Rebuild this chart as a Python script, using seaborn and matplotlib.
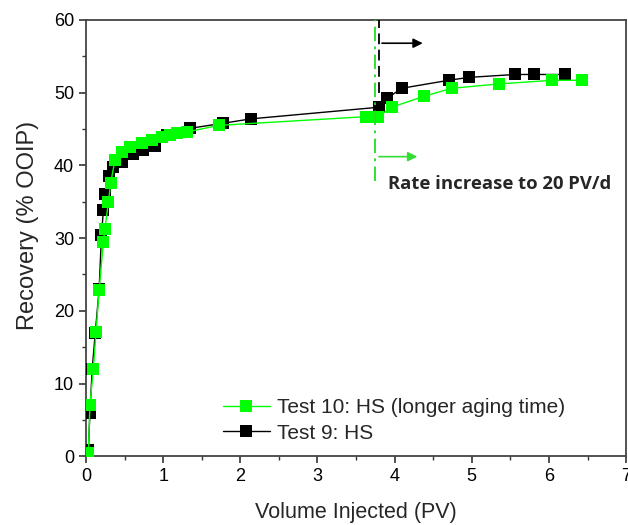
import matplotlib
matplotlib.use("Agg")
import matplotlib.pyplot as plt
import seaborn as sns
import pandas as pd
from matplotlib.ticker import MultipleLocator

# Test 10: HS (longer aging time) - green
x10 = [0.03, 0.05, 0.095, 0.13, 0.17, 0.225, 0.246, 0.29, 0.32, 0.376, 0.46, 0.57,
       0.72, 0.85, 0.98, 1.09, 1.18, 1.31, 1.72, 3.63, 3.79, 3.96, 4.38, 4.74, 5.35, 6.04, 6.43]
y10 = [0.4, 7.0, 12.0, 17.1, 22.9, 29.5, 31.3, 35.0, 37.6, 40.8, 41.9, 42.5,
       43.1, 43.5, 43.9, 44.2, 44.4, 44.6, 45.5, 46.7, 46.7, 48.0, 49.5, 50.6, 51.2, 51.7, 51.7]

# Test 9: HS - black
x9 = [0.03, 0.05, 0.08, 0.12, 0.17, 0.20, 0.225, 0.246, 0.30, 0.354, 0.46, 0.61,
      0.74, 0.89, 1.05, 1.35, 1.78, 2.14, 3.80, 3.90, 4.09, 4.70, 4.96, 5.56, 5.80, 6.21]
y9 = [0.8, 5.9, 12.0, 17.0, 23.0, 30.4, 33.8, 36.1, 38.5, 39.8, 40.5, 41.6,
      42.1, 42.6, 44.2, 45.1, 45.8, 46.4, 48.0, 49.2, 50.6, 51.7, 52.1, 52.5, 52.5, 52.5]

label10 = "Test 10: HS (longer aging time)"
label9 = "Test 9: HS"
annotation = "Rate increase to 20 PV/d"
green_switch = 3.74
black_switch = 3.80

sns.set_style("ticks")
plt.rcParams["font.family"] = ["Liberation Sans", "DejaVu Sans"]

fig = plt.figure(figsize=(6.28, 5.25), dpi=100)
ax = fig.add_axes([0.137, 0.131, 0.860, 0.831])

df10 = pd.DataFrame({"x": x10, "y": y10})
df9 = pd.DataFrame({"x": x9, "y": y9})

sns.lineplot(data=df9, x="x", y="y", ax=ax, sort=False, color="black", marker="s",
             markersize=8.5, markeredgewidth=0, linewidth=1.0, label=label9, zorder=3)
sns.lineplot(data=df10, x="x", y="y", ax=ax, sort=False, color="#00ff00", marker="s",
             markersize=8.5, markeredgewidth=0, linewidth=1.0, label=label10, zorder=4)

# vertical switch lines
ax.plot([black_switch, black_switch], [49.9, 60], color="black", ls=(0, (6, 3)), lw=1.3, zorder=5)
ax.plot([green_switch, green_switch], [37.8, 60], color="#22dd22", ls=(0, (8, 3, 1.5, 3)), lw=1.3, zorder=5)

ax.annotate("", xy=(4.40, 56.8), xytext=(black_switch, 56.8),
            arrowprops=dict(arrowstyle="-|>", color="black", lw=1.2, mutation_scale=14))
ax.annotate("", xy=(4.33, 41.2), xytext=(green_switch + 0.02, 41.2),
            arrowprops=dict(arrowstyle="-|>", color="#33dd33", lw=1.2, mutation_scale=14))
ax.text(3.91, 37.5, annotation, fontsize=13.3, fontweight="bold",
        family=["Open Sans", "DejaVu Sans"], va="center", ha="left")

ax.set_xlim(0, 7)
ax.set_ylim(0, 60)
ax.xaxis.set_major_locator(MultipleLocator(1))
ax.xaxis.set_minor_locator(MultipleLocator(0.5))
ax.yaxis.set_major_locator(MultipleLocator(10))
ax.yaxis.set_minor_locator(MultipleLocator(5))
ax.tick_params(which="major", direction="out", length=5, width=1.2, labelsize=13, colors="#333333", labelcolor="black")
ax.tick_params(which="minor", direction="out", length=3, width=1.0, colors="#333333")
for s in ax.spines.values():
    s.set_linewidth(1.3)
    s.set_color("#444444")

ax.set_xlabel("Volume Injected (PV)", fontsize=15.5, labelpad=12)
ax.set_ylabel("Recovery (% OOIP)", fontsize=17, labelpad=8)
ax.yaxis.set_label_coords(-0.088, 0.53)

h, l = ax.get_legend_handles_labels()
ax.legend(h[::-1], l[::-1], loc="lower left", bbox_to_anchor=(0.238, 0.012), borderaxespad=0,
          frameon=False, fontsize=15, handlelength=2.25, handletextpad=0.33, labelspacing=0.3)

fig.savefig("out.png", dpi=100)
